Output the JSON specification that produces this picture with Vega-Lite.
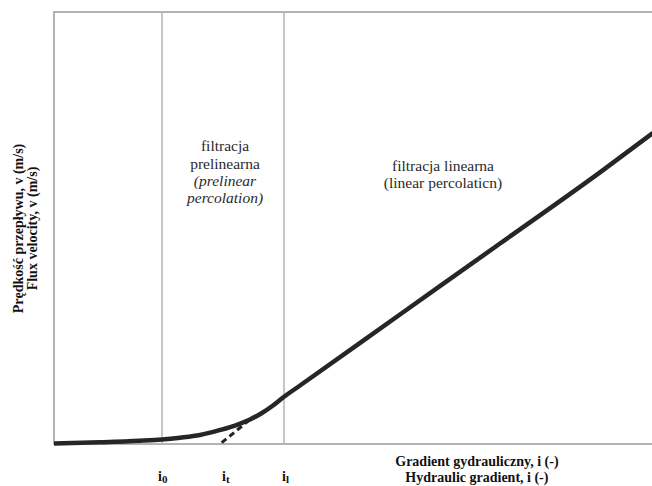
{
  "$schema": "https://vega.github.io/schema/vega-lite/v6.json",
  "width": 599,
  "height": 432,
  "autosize": {"type": "none"},
  "padding": {"left": 54, "top": 12, "right": 0, "bottom": 42},
  "background": "white",
  "config": {
    "view": {"stroke": "#9a9a9a", "strokeWidth": 1.5},
    "font": "Liberation Serif, Times New Roman, serif"
  },
  "datasets": {
    "curve": [
      {"i": 0, "v": 0.12},
      {"i": 7.68, "v": 0.39},
      {"i": 14.36, "v": 0.74},
      {"i": 18.03, "v": 1.04},
      {"i": 21.04, "v": 1.46},
      {"i": 24.37, "v": 2.08},
      {"i": 27.71, "v": 3.24},
      {"i": 30.22, "v": 4.28},
      {"i": 32.72, "v": 5.67},
      {"i": 34.72, "v": 7.18},
      {"i": 36.56, "v": 8.91},
      {"i": 38.23, "v": 10.76},
      {"i": 41.07, "v": 13.54},
      {"i": 57.76, "v": 29.98},
      {"i": 74.46, "v": 46.41},
      {"i": 91.15, "v": 62.89},
      {"i": 100, "v": 72.0}
    ],
    "tangent": [
      {"i": 28.0, "v": 0.3},
      {"i": 32.4, "v": 5.3}
    ],
    "bounds": [
      {"i": 18.03},
      {"i": 38.4}
    ],
    "zones": [
      {"i": 28.55, "v": 67.9, "label": "filtracja", "style": "normal"},
      {"i": 28.55, "v": 63.6, "label": "prelinearna", "style": "normal"},
      {"i": 28.55, "v": 59.7, "label": "(prelinear", "style": "italic"},
      {"i": 28.55, "v": 55.8, "label": "percolation)", "style": "italic"},
      {"i": 64.94, "v": 63.26, "label": "filtracja linearna", "style": "normal"},
      {"i": 64.94, "v": 59.26, "label": "(linear percolaticn)", "style": "normal"}
    ],
    "marks": [
      {"i": 18.03, "v": -8.5, "sub": "0"},
      {"i": 28.71, "v": -8.5, "sub": "t"},
      {"i": 38.73, "v": -8.5, "sub": "l"}
    ],
    "xtitle": [
      {"i": 70.6, "v": -5.2, "label": "Gradient gydrauliczny, i (-)"},
      {"i": 70.6, "v": -8.75, "label": "Hydraulic gradient, i (-)"}
    ]
  },
  "layer": [
    {
      "data": {"name": "bounds"},
      "mark": {"type": "rule", "color": "#b4b4b4", "strokeWidth": 1.5},
      "encoding": {
        "x": {"field": "i", "type": "quantitative", "scale": {"domain": [0, 100]}, "axis": null}
      }
    },
    {
      "data": {"name": "tangent"},
      "mark": {"type": "line", "color": "#222222", "strokeWidth": 3, "strokeDash": [6, 4]},
      "encoding": {
        "x": {"field": "i", "type": "quantitative", "scale": {"domain": [0, 100]}, "axis": null},
        "y": {"field": "v", "type": "quantitative", "scale": {"domain": [0, 100]}}
      }
    },
    {
      "data": {"name": "curve"},
      "mark": {"type": "line", "color": "#262626", "strokeWidth": 4.5, "interpolate": "monotone", "clip": false},
      "encoding": {
        "x": {"field": "i", "type": "quantitative", "scale": {"domain": [0, 100]}, "axis": null},
        "y": {
          "field": "v",
          "type": "quantitative",
          "scale": {"domain": [0, 100]},
          "axis": {
            "domain": false,
            "ticks": false,
            "labels": false,
            "grid": false,
            "title": ["Prędkość przepływu,  v (m/s)", "Flux velocity, v (m/s)"],
            "titleFont": "Liberation Serif, Times New Roman, serif",
            "titleFontSize": 14,
            "titleFontWeight": "bold",
            "titleColor": "#111111",
            "titlePadding": 15,
            "titleLineHeight": 14
          }
        }
      }
    },
    {
      "data": {"name": "zones"},
      "transform": [{"filter": "datum.style === 'normal'"}],
      "mark": {"type": "text", "font": "Liberation Serif, Times New Roman, serif", "fontSize": 15.5, "color": "#2a2a2a", "align": "center", "baseline": "alphabetic"},
      "encoding": {
        "x": {"field": "i", "type": "quantitative"},
        "y": {"field": "v", "type": "quantitative"},
        "text": {"field": "label"}
      }
    },
    {
      "data": {"name": "zones"},
      "transform": [{"filter": "datum.style === 'italic'"}],
      "mark": {"type": "text", "font": "Liberation Serif, Times New Roman, serif", "fontSize": 15.5, "fontStyle": "italic", "color": "#2a2a2a", "align": "center", "baseline": "alphabetic"},
      "encoding": {
        "x": {"field": "i", "type": "quantitative"},
        "y": {"field": "v", "type": "quantitative"},
        "text": {"field": "label"}
      }
    },
    {
      "data": {"name": "marks"},
      "mark": {"type": "text", "font": "Liberation Serif, Times New Roman, serif", "fontSize": 14, "fontWeight": "bold", "color": "#111111", "align": "right", "baseline": "alphabetic", "clip": false},
      "encoding": {
        "x": {"field": "i", "type": "quantitative"},
        "y": {"field": "v", "type": "quantitative"},
        "text": {"value": "i"}
      }
    },
    {
      "data": {"name": "marks"},
      "mark": {"type": "text", "font": "Liberation Serif, Times New Roman, serif", "fontSize": 11, "fontWeight": "bold", "color": "#111111", "align": "left", "baseline": "alphabetic", "dy": 2.5, "clip": false},
      "encoding": {
        "x": {"field": "i", "type": "quantitative"},
        "y": {"field": "v", "type": "quantitative"},
        "text": {"field": "sub"}
      }
    },
    {
      "data": {"name": "xtitle"},
      "mark": {"type": "text", "font": "Liberation Serif, Times New Roman, serif", "fontSize": 14, "fontWeight": "bold", "color": "#111111", "align": "center", "baseline": "alphabetic", "clip": false},
      "encoding": {
        "x": {"field": "i", "type": "quantitative"},
        "y": {"field": "v", "type": "quantitative"},
        "text": {"field": "label"}
      }
    }
  ]
}
